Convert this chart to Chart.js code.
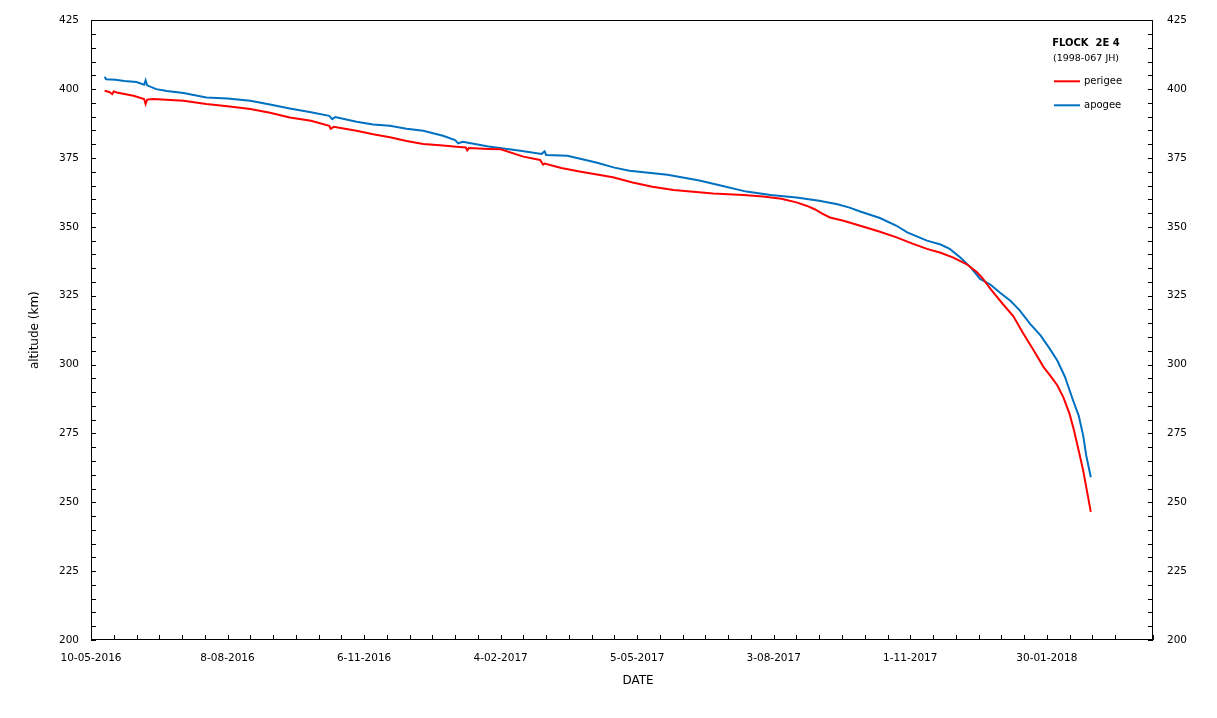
<!DOCTYPE html>
<html>
<head>
<meta charset="utf-8">
<script src="https://cdn.jsdelivr.net/npm/chart.js@4/dist/chart.umd.min.js"></script>
<style>
  html, body { margin: 0; padding: 0; background: #fff; }
  #wrap { width: 1217px; height: 718px; }
</style>
</head>
<body>
<div id="wrap"><canvas id="chart" width="1217" height="718"></canvas></div>
<script>
// --- data: days counted from 10-05-2016, altitude in km ---
const DATE_TICKS = ['10-05-2016', '8-08-2016', '6-11-2016', '4-02-2017', '5-05-2017', '3-08-2017', '1-11-2017', '30-01-2018'];

const perigeeDays = [9, 12, 14, 15, 17, 28, 35, 36, 37, 41, 61, 76, 90, 105, 118, 131, 145, 157, 158, 160, 175, 186, 197, 208, 219, 230, 241, 247, 248, 249, 262, 270, 285, 296, 298, 299, 310, 322, 344, 357, 370, 384, 410, 430, 443, 455, 465, 472, 477, 482, 487, 496, 507, 519, 531, 541, 551, 560, 568, 577, 584, 588, 593, 601, 608, 614, 621, 628, 632, 637, 641, 645, 648, 651, 654, 656, 659];
const perigeeKm = [399.4, 399.0, 398.2, 399.2, 398.8, 397.6, 396.4, 394.6, 396.2, 396.4, 395.8, 394.6, 393.8, 392.8, 391.4, 389.7, 388.5, 386.7, 385.6, 386.3, 384.9, 383.6, 382.5, 381.2, 380.1, 379.6, 379.1, 378.8, 377.8, 378.6, 378.3, 378.2, 375.5, 374.3, 372.6, 373.0, 371.4, 370.1, 368.0, 366.1, 364.6, 363.4, 362.1, 361.6, 361.0, 360.2, 358.9, 357.6, 356.4, 354.8, 353.4, 352.2, 350.4, 348.4, 346.2, 344.0, 342.0, 340.6, 338.9, 336.5, 333.5, 331.1, 327.4, 322.0, 317.5, 311.7, 305.5, 299.0, 296.2, 292.4, 288.0, 282.1, 276.0, 268.8, 261.5, 255.5, 246.5];

const apogeeDays = [9, 10, 16, 22, 30, 35, 36, 37, 43, 50, 61, 76, 90, 105, 118, 131, 145, 157, 159, 161, 175, 186, 197, 208, 219, 232, 240, 242, 245, 262, 283, 297, 299, 300, 314, 333, 345, 355, 380, 401, 415, 432, 448, 465, 480, 492, 500, 507, 520, 531, 538, 551, 560, 566, 573, 580, 586, 593, 599, 606, 612, 619, 626, 632, 637, 642, 647, 651, 654, 656, 659];
const apogeeKm = [404.5, 403.6, 403.4, 403.0, 402.6, 401.6, 403.2, 401.4, 400.0, 399.3, 398.6, 397.0, 396.6, 395.8, 394.4, 393.0, 391.6, 390.3, 389.1, 389.9, 388.2, 387.2, 386.7, 385.6, 384.9, 383.1, 381.5, 380.3, 380.9, 379.2, 377.6, 376.5, 377.4, 376.1, 375.8, 373.4, 371.5, 370.4, 368.9, 366.8, 365.0, 362.8, 361.6, 360.7, 359.5, 358.2, 357.0, 355.6, 353.2, 350.4, 348.0, 345.0, 343.6, 342.0, 338.9, 335.2, 331.1, 329.0, 326.2, 323.2, 319.8, 314.8, 310.5, 305.7, 301.4, 295.5, 287.5, 281.5, 274.2, 267.0, 259.1];

const FONT = 'DejaVu Sans';

function toPoints(days, km) {
    return days.map((d, i) => ({ x: d, y: km[i] }));
}

// inward tick marks, frame round the plot area, x axis title
const frameTicks = {
    id: 'frameTicks',
    afterDraw(chart) {
        const { ctx, chartArea: a, scales } = chart;
        ctx.save();
        ctx.strokeStyle = '#000';
        ctx.lineWidth = 1;
        ctx.beginPath();
        scales.x.ticks.forEach(t => {
            const px = Math.round(scales.x.getPixelForValue(t.value)) + 0.5;
            ctx.moveTo(px, a.bottom);
            ctx.lineTo(px, a.bottom - 5);
        });
        scales.y.ticks.forEach(t => {
            const py = Math.round(scales.y.getPixelForValue(t.value)) + 0.5;
            ctx.moveTo(a.left, py);
            ctx.lineTo(a.left + 5, py);
            ctx.moveTo(a.right, py);
            ctx.lineTo(a.right - 5, py);
        });
        ctx.stroke();
        ctx.strokeRect(Math.round(a.left) + 0.5, Math.round(a.top) + 0.5,
            Math.round(a.right - a.left) - 1, Math.round(a.bottom - a.top) - 1);

        ctx.fillStyle = '#000';
        ctx.font = '12px "' + FONT + '"';
        ctx.textAlign = 'center';
        ctx.textBaseline = 'middle';
        ctx.fillText('DATE', (a.left + a.right) / 2 + 16, a.bottom + 41);
        ctx.restore();
    }
};

// legend block in the upper right corner
const cornerLegend = {
    id: 'cornerLegend',
    afterDraw(chart) {
        const { ctx, chartArea: a } = chart;
        const cx = a.right - 67;
        ctx.save();
        ctx.fillStyle = '#000';
        ctx.textAlign = 'center';
        ctx.textBaseline = 'middle';
        ctx.font = 'bold 10px "' + FONT + '"';
        ctx.fillText('FLOCK  2E 4', cx, a.top + 23);
        ctx.font = '9.5px "' + FONT + '"';
        ctx.fillText('(1998-067 JH)', cx, a.top + 38);
        ctx.textAlign = 'left';
        ctx.font = '10px "' + FONT + '"';
        chart.data.datasets.forEach((ds, i) => {
            const y = a.top + 61 + i * 24;
            ctx.strokeStyle = ds.borderColor;
            ctx.lineWidth = 2;
            ctx.beginPath();
            ctx.moveTo(cx - 32, y);
            ctx.lineTo(cx - 6, y);
            ctx.stroke();
            ctx.fillText(ds.label, cx - 2, y);
        });
        ctx.restore();
    }
};

const tickFont = { family: FONT, size: 10.5 };
const noGrid = { display: false, drawTicks: false };

new Chart(document.getElementById('chart'), {
    type: 'line',
    data: {
        datasets: [
            { label: 'perigee', data: toPoints(perigeeDays, perigeeKm), borderColor: '#ff0000', borderWidth: 2, pointRadius: 0, tension: 0, yAxisID: 'y' },
            { label: 'apogee', data: toPoints(apogeeDays, apogeeKm), borderColor: '#0070c0', borderWidth: 2, pointRadius: 0, tension: 0, yAxisID: 'y' }
        ]
    },
    options: {
        responsive: false,
        animation: false,
        layout: { padding: { top: 19, left: 0, right: 0, bottom: 0 } },
        plugins: { legend: { display: false }, tooltip: { enabled: false } },
        scales: {
            x: {
                type: 'linear', min: 0, max: 700,
                grid: noGrid,
                border: { display: false },
                ticks: {
                    stepSize: 15, autoSkip: false, maxRotation: 0, padding: 12,
                    color: '#000', font: tickFont,
                    callback: v => (v % 90 === 0 ? DATE_TICKS[v / 90] || '' : '')
                },
                afterFit: s => { s.height = 78; }
            },
            y: {
                position: 'left', min: 200, max: 425,
                grid: noGrid,
                border: { display: false },
                ticks: {
                    stepSize: 5, autoSkip: false, padding: 12,
                    color: '#000', font: tickFont,
                    callback: v => (v % 25 === 0 ? v : '')
                },
                title: { display: true, text: 'altitude (km)', color: '#000', font: { family: FONT, size: 12 }, padding: { top: 28, bottom: 0 } },
                afterFit: s => { s.width = 91; }
            },
            y2: {
                position: 'right', min: 200, max: 425,
                grid: noGrid,
                border: { display: false },
                ticks: {
                    stepSize: 5, autoSkip: false, padding: 14,
                    color: '#000', font: tickFont,
                    callback: v => (v % 25 === 0 ? v : '')
                },
                afterFit: s => { s.width = 64; }
            }
        }
    },
    plugins: [frameTicks, cornerLegend]
});
</script>
</body>
</html>
